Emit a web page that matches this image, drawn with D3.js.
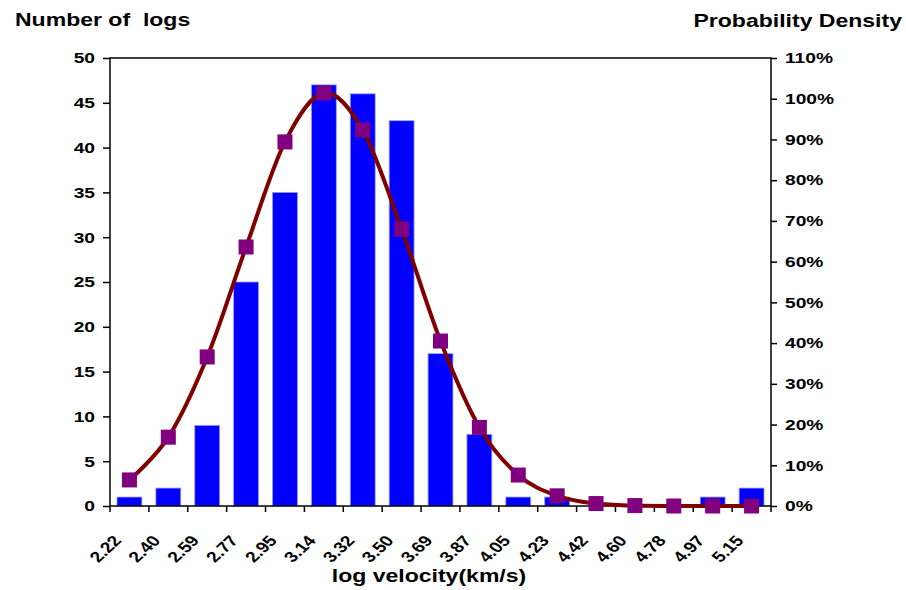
<!DOCTYPE html>
<html><head><meta charset="utf-8">
<script src="https://cdn.jsdelivr.net/npm/d3@7"></script>
<style>
body{margin:0;background:#fff;}
text{font-family:"Liberation Sans",Arial,sans-serif;font-weight:bold;fill:#000;}
</style></head>
<body><svg id="c" width="906" height="590"></svg>
<script>
const categories = ["2.22","2.40","2.59","2.77","2.95","3.14","3.32","3.50","3.69","3.87","4.05","4.23","4.42","4.60","4.78","4.97","5.15"];
const counts = [1,2,9,25,35,47,46,43,17,8,1,1,0,0,0,1,2];
const density = [0.064,0.169,0.366,0.636,0.894,1.014,0.923,0.680,0.405,0.193,0.076,0.025,0.006,0.001,0,0,0];
const leftTicks = [0,5,10,15,20,25,30,35,40,45,50];
const rightTicks = [0,0.1,0.2,0.3,0.4,0.5,0.6,0.7,0.8,0.9,1.0,1.1];

const SX = 1.28;
const svg = d3.select("#c");
const L = 110, R = 771, T = 58, B = 506;

const x = d3.scaleBand().domain(categories).range([L, R]).padding(0);
const yL = d3.scaleLinear().domain([0, 50]).range([B, T]);
const yR = d3.scaleLinear().domain([0, 1.1]).range([B, T]);
const barW = x.bandwidth() * 0.64;

// bars
svg.append("g").selectAll("rect").data(counts).join("rect")
  .attr("x", (d, i) => x(categories[i]) + (x.bandwidth() - barW) / 2)
  .attr("y", d => yL(d))
  .attr("width", barW)
  .attr("height", d => B - yL(d))
  .attr("fill", "#0000ff")
  .attr("stroke", d => d > 0 ? "#9a9aff" : "none")
  .attr("stroke-width", 0.8);

// frame
svg.append("rect").attr("x", L).attr("y", T).attr("width", R - L).attr("height", B - T)
  .attr("fill", "none").attr("stroke", "#000").attr("stroke-width", 1.5);

// left axis
const gl = svg.append("g").attr("transform", `translate(${L},0)`)
  .call(d3.axisLeft(yL).tickValues(leftTicks).tickSize(7).tickSizeOuter(0).tickFormat(d3.format("d")));
gl.select(".domain").remove();
gl.selectAll("line").attr("stroke", "#000").attr("stroke-width", 1.5);
gl.selectAll("text").attr("x", -15 / SX).attr("transform", `scale(${SX},1)`)
  .style("font-size", "15px").style("font-family", "Liberation Sans").attr("fill", "#000");

// right axis
const gr = svg.append("g").attr("transform", `translate(${R},0)`)
  .call(d3.axisRight(yR).tickValues(rightTicks).tickSize(6).tickSizeOuter(0).tickFormat(d3.format(".0%")));
gr.select(".domain").remove();
gr.selectAll("line").attr("stroke", "#000").attr("stroke-width", 1.5);
gr.selectAll("text").attr("x", 14 / SX).attr("transform", `scale(${SX},1)`)
  .style("font-size", "15px").style("font-family", "Liberation Sans").attr("fill", "#000");

// bottom ticks at band boundaries
const bounds = categories.map(c => x(c)).concat([R]);
svg.append("g").selectAll("line").data(bounds).join("line")
  .attr("x1", d => d).attr("x2", d => d).attr("y1", B).attr("y2", B + 6)
  .attr("stroke", "#000").attr("stroke-width", 1.5);
svg.append("g").selectAll("text").data(categories).join("text")
  .attr("transform", d => `translate(${x(d) + x.bandwidth() / 2 - 7},541) scale(${SX},1) rotate(-50)`)
  .attr("text-anchor", "end")
  .style("font-size", "15px")
  .text(d => d);

// density line
const line = d3.line()
  .x((d, i) => x(categories[i]) + x.bandwidth() / 2)
  .y(d => yR(d))
  .curve(d3.curveCardinal.tension(0));
svg.append("path").datum(density).attr("d", line)
  .attr("fill", "none").attr("stroke", "#800000").attr("stroke-width", 4);

const ms = 15;
svg.append("g").selectAll("rect").data(density).join("rect")
  .attr("x", (d, i) => x(categories[i]) + x.bandwidth() / 2 - ms / 2)
  .attr("y", d => yR(d) - ms / 2)
  .attr("width", ms).attr("height", ms)
  .attr("fill", "#800080");

// titles
svg.append("text").attr("transform", `translate(15,26) scale(${SX},1)`)
  .style("font-size", "18px").style("white-space", "pre").text("Number of  logs");
svg.append("text").attr("transform", `translate(902,27) scale(${SX},1)`)
  .attr("text-anchor", "end").style("font-size", "18px").text("Probability Density");
svg.append("text").attr("transform", `translate(429,582) scale(${SX},1)`)
  .attr("text-anchor", "middle").style("font-size", "18px").text("log velocity(km/s)");
</script></body></html>
